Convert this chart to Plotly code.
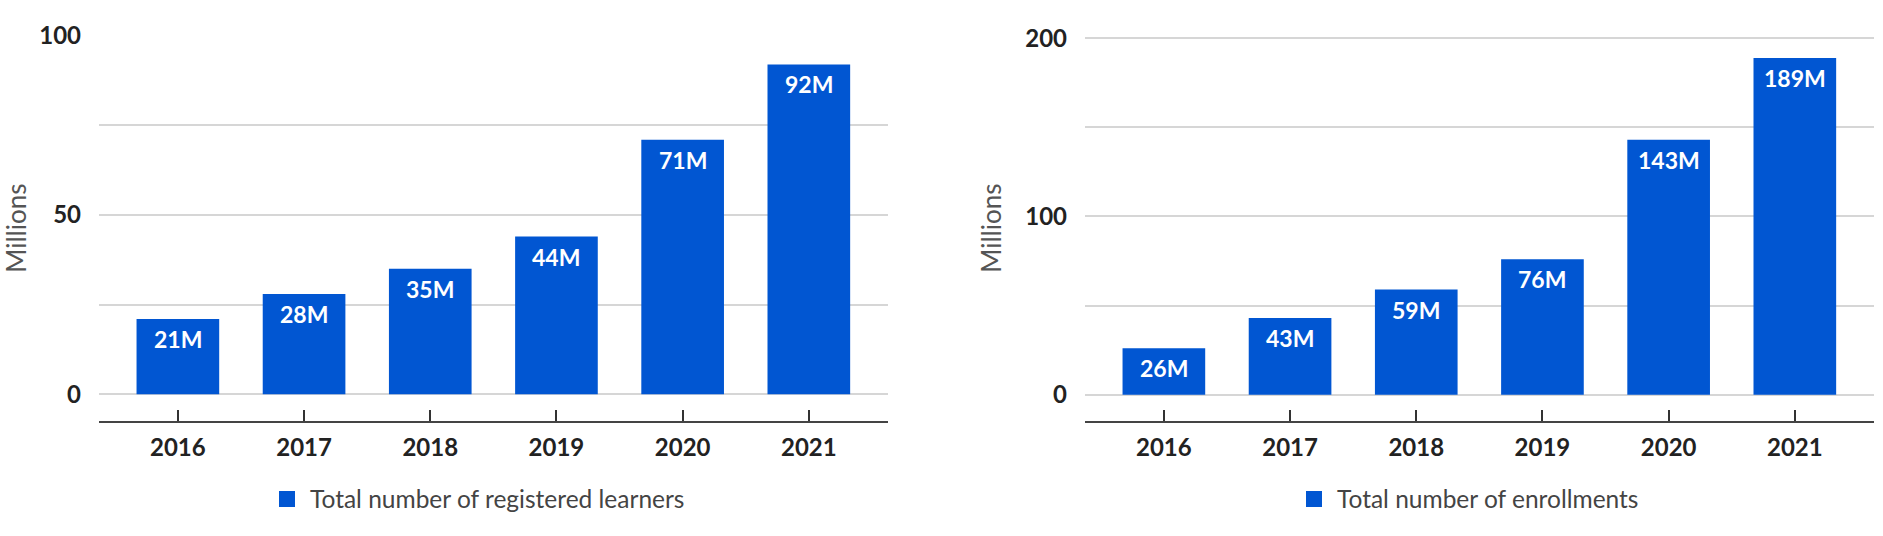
import plotly.graph_objects as go

years = ["2016", "2017", "2018", "2019", "2020", "2021"]
learners = [21, 28, 35, 44, 71, 92]
enrollments = [26, 43, 59, 76, 143, 189]
left_ticks = [0, 25, 50, 75, 100]
left_ticktext = ["0", "", "50", "", "100"]
right_ticks = [0, 50, 100, 150, 200]
right_ticktext = ["0", "", "100", "", "200"]
name_left = "Total number of registered learners"
name_right = "Total number of enrollments"

BLUE = "#0156D2"
FONT = "Lato"
W, H = 1883, 536

fig = go.Figure()
annotations = []

def add_series(vals, name, xa, ya, lg, grp):
    fig.add_trace(go.Bar(
        x=years, y=vals, xaxis=xa, yaxis=ya, marker=dict(color=BLUE, line=dict(width=0)),
        showlegend=False, legendgroup=grp, name=name, hoverinfo="x+y"))
    fig.add_trace(go.Scatter(
        x=[None], y=[None], xaxis=xa, yaxis=ya, mode="markers",
        marker=dict(symbol="square", size=22, color=BLUE, line=dict(width=0)),
        name=name, legend=lg, legendgroup=grp, showlegend=True))
    for i, v in enumerate(vals):
        annotations.append(dict(
            x=i, y=v, xref=xa, yref=ya, text=f"{v}M", showarrow=False,
            yanchor="middle", xanchor="center", yshift=-20,
            font=dict(family=FONT, size=23, color="#ffffff", weight="bold")))

add_series(learners, name_left, "x", "y", "legend", "g1")
add_series(enrollments, name_right, "x2", "y2", "legend2", "g2")

ydom = [1 - 420.5 / H, 1 - 35.7 / H]
xdom1 = [99 / W, 887.7 / W]
xdom2 = [1085 / W, 1873.7 / W]

xcommon = dict(type="category", range=[-0.625, 5.625], showline=True, linecolor="#444",
               linewidth=2, ticks="inside", ticklen=11, tickwidth=1.5, tickcolor="#333",
               showgrid=False, zeroline=False, automargin=False,
               tickfont=dict(family=FONT, size=24, color="#222", weight="bold"),
               ticklabelstandoff=5, fixedrange=True)
ycommon = dict(showgrid=True, gridcolor="#d6d6d6", gridwidth=2, zeroline=False,
               showline=False, ticks="", ticklabelstandoff=17, automargin=False,
               tickfont=dict(family=FONT, size=24, color="#222", weight="bold"),
               fixedrange=True)

legfont = dict(family=FONT, size=24.5, color="#444")

fig.update_layout(
    width=W, height=H,
    margin=dict(l=0, r=0, t=0, b=0),
    paper_bgcolor="white", plot_bgcolor="white",
    bargap=0.345,
    xaxis=dict(domain=xdom1, anchor="y", **xcommon),
    xaxis2=dict(domain=xdom2, anchor="y2", **xcommon),
    yaxis=dict(domain=ydom, anchor="x", range=[-7.31, 100.0], tickvals=left_ticks,
               ticktext=left_ticktext,
               title=dict(text="Millions", font=dict(family=FONT, size=26, color="#555"), standoff=5),
               **ycommon),
    yaxis2=dict(domain=ydom, anchor="x2", range=[-14.5, 201.46], tickvals=right_ticks,
                ticktext=right_ticktext,
                title=dict(text="Millions", font=dict(family=FONT, size=26, color="#555"), standoff=16),
                **ycommon),
    legend=dict(x=264 / W, xanchor="left", y=1 - 499 / H, yanchor="middle", itemwidth=36,
                font=legfont, bgcolor="rgba(0,0,0,0)"),
    legend2=dict(x=1291 / W, xanchor="left", y=1 - 499 / H, yanchor="middle", itemwidth=36,
                 font=legfont, bgcolor="rgba(0,0,0,0)"),
    showlegend=True,
    annotations=annotations,
)

fig.write_html("out.html", config={"displayModeBar": False},
               post_script="document.body.style.margin='0';")
